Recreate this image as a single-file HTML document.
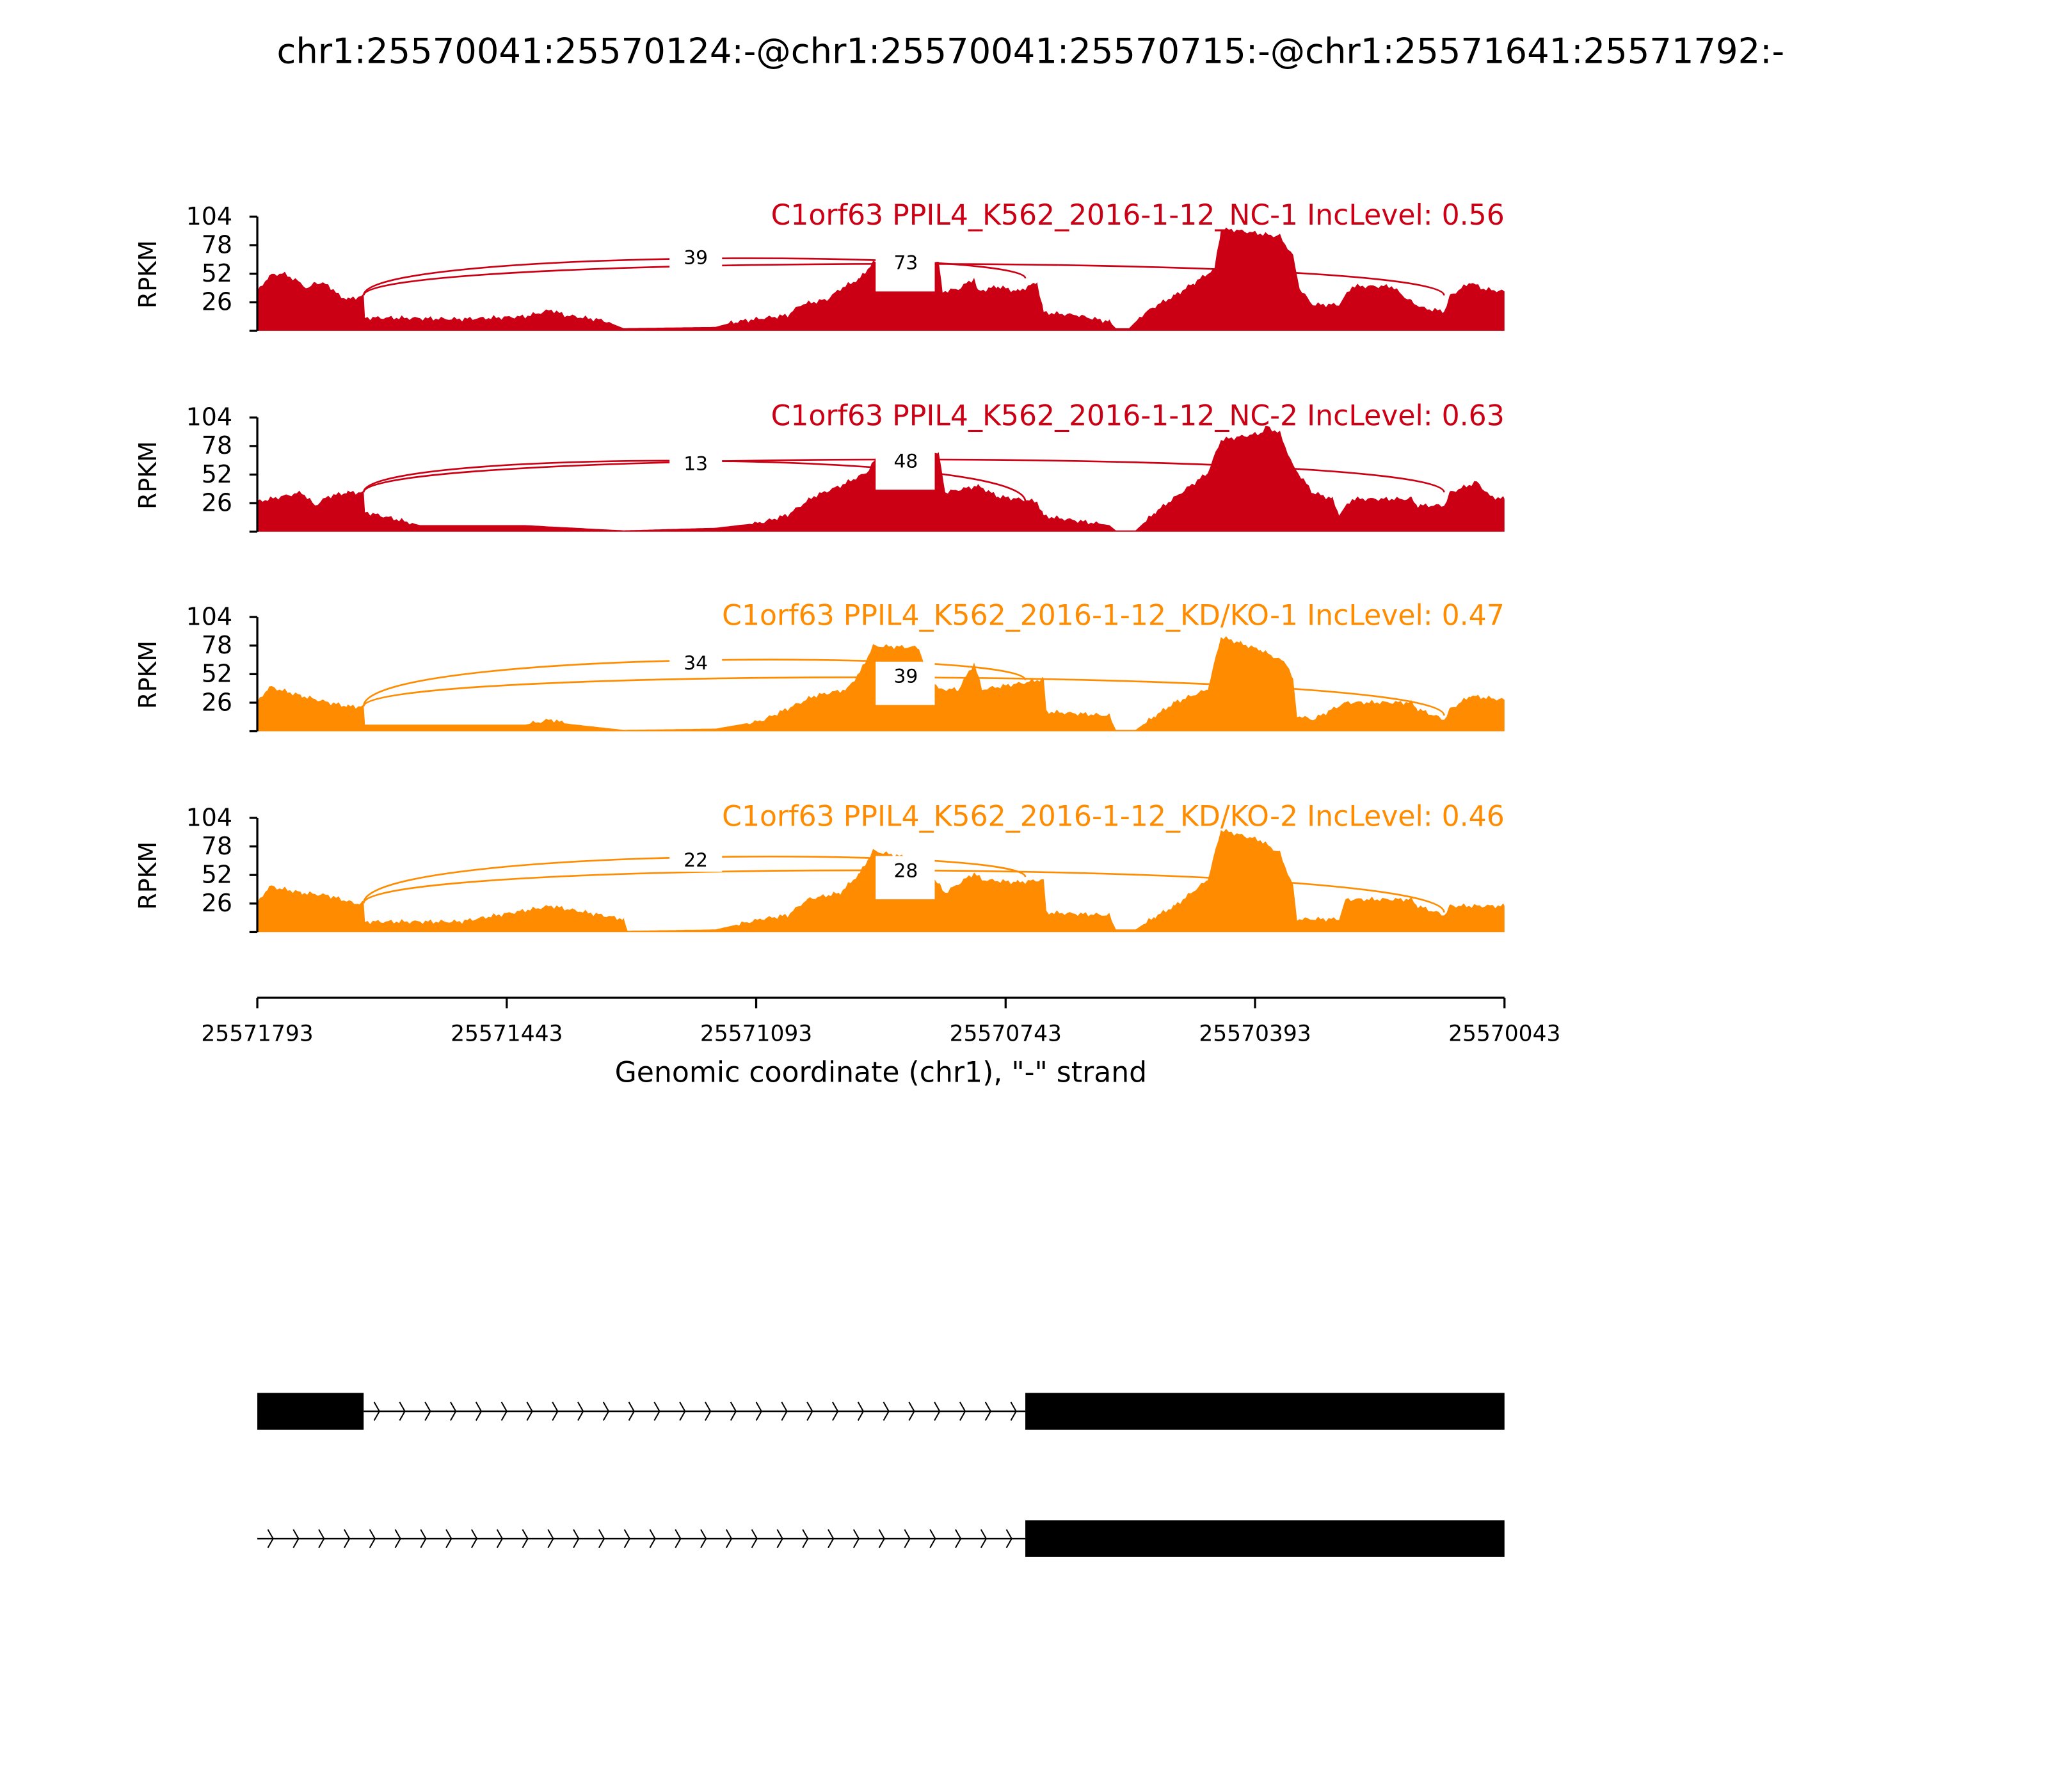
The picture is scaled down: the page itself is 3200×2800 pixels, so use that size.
<!DOCTYPE html>
<html><head><meta charset="utf-8"><style>
html,body{margin:0;padding:0;background:#fff;}
svg{display:block;}
text{font-family:"DejaVu Sans","Liberation Sans",sans-serif;}
</style></head><body>
<svg id="s" width="3200" height="2800" viewBox="0 0 1560 1365" xmlns="http://www.w3.org/2000/svg">
<rect width="1560" height="1365" fill="#fff"/>
<text x="785" y="48" font-size="26.5" text-anchor="middle">chr1:25570041:25570124:-@chr1:25570041:25570715:-@chr1:25571641:25571792:-</text>
<g id="panels"></g>
<g stroke="#000" stroke-width="1.6">
<line x1="196" y1="760" x2="1146" y2="760"/>
<line x1="196" y1="760" x2="196" y2="768"/><line x1="386" y1="760" x2="386" y2="768"/>
<line x1="576" y1="760" x2="576" y2="768"/><line x1="766" y1="760" x2="766" y2="768"/>
<line x1="956" y1="760" x2="956" y2="768"/><line x1="1146" y1="760" x2="1146" y2="768"/>
</g>
<g font-size="16.8" text-anchor="middle">
<text x="196" y="793">25571793</text><text x="386" y="793">25571443</text>
<text x="576" y="793">25571093</text><text x="766" y="793">25570743</text>
<text x="956" y="793">25570393</text><text x="1146" y="793">25570043</text>
</g>
<text x="671" y="824" font-size="21.5" text-anchor="middle">Genomic coordinate (chr1), "-" strand</text>
<rect x="196" y="1061" width="81" height="28" fill="#000"/>
<rect x="781" y="1061" width="365" height="28" fill="#000"/>
<line x1="277" y1="1075" x2="781" y2="1075" stroke="#000" stroke-width="1.2"/>
<rect x="781" y="1158" width="365" height="28" fill="#000"/>
<line x1="196" y1="1172" x2="781" y2="1172" stroke="#000" stroke-width="1.2"/>
<g id="chev" fill="none" stroke="#000" stroke-width="1"></g>
</svg>
<script>
var NS="http://www.w3.org/2000/svg";
function el(t,a,p){var e=document.createElementNS(NS,t);for(var k in a)e.setAttribute(k,a[k]);(p||document.getElementById('panels')).appendChild(e);return e;}
var ch=document.getElementById('chev');
for(var x=287;x<775;x+=19.4){el('path',{d:'M'+(x-2)+' 1068 L'+(x+2)+' 1075 L'+(x-2)+' 1082'},ch);}
for(var x=206;x<775;x+=19.4){el('path',{d:'M'+(x-2)+' 1165 L'+(x+2)+' 1172 L'+(x-2)+' 1179'},ch);}
var P=[
{b:252,c:"#cc0014",lab:"C1orf63 PPIL4_K562_2016-1-12_NC-1 IncLevel: 0.56",
prof:[[196,222],[205,210],[215,208],[225,213],[235,220],[240,215],[250,217],[258,225],[265,228],[277,225],[278,242],[300,242],[350,243],[400,241],[420,236],[430,240],[460,244],[475,250],[545,249],[560,245],[600,240],[610,232],[630,228],[640,220],[655,212],[665,200],[715,200],[718,222],[730,220],[742,212],[745,222],[760,218],[775,222],[790,215],[795,238],[820,240],[845,245],[850,250],[860,250],[870,240],[880,233],[895,225],[910,215],[925,205],[930,175],[940,175],[960,178],[975,180],[985,195],[990,220],[1000,232],[1020,232],[1030,218],[1060,218],[1075,230],[1085,235],[1100,237],[1105,225],[1120,215],[1130,220],[1146,222]],
A:[277,225,781,212,197],B:[277,225,1100,225,201],la:"39",lb:"73",lay:196,lby:200},
{b:405,c:"#cc0014",lab:"C1orf63 PPIL4_K562_2016-1-12_NC-2 IncLevel: 0.63",
prof:[[196,382],[230,375],[240,385],[250,378],[265,375],[277,375],[278,390],[300,395],[320,400],[400,400],[475,404],[545,402],[580,398],[600,392],[610,385],[620,378],[640,370],[660,360],[670,345],[715,345],[720,375],[745,370],[760,378],[790,382],[795,393],[845,400],[850,404],[865,404],[880,390],[900,375],[920,360],[930,335],[960,330],[965,325],[975,330],[985,355],[1000,375],[1015,380],[1020,392],[1030,380],[1075,380],[1080,385],[1100,385],[1105,375],[1125,367],[1135,378],[1146,380]],
A:[277,375,781,382,351],B:[277,375,1100,375,350],la:"13",lb:"48",lay:353,lby:351},
{b:557,c:"#ff8c00",lab:"C1orf63 PPIL4_K562_2016-1-12_KD/KO-1 IncLevel: 0.47",
prof:[[196,535],[205,523],[230,530],[250,535],[265,538],[277,538],[278,552],[400,552],[420,548],[430,551],[475,556],[545,555],[580,549],[610,535],[620,530],[645,525],[655,512],[665,492],[700,493],[705,510],[715,525],[730,525],[742,505],[748,525],[780,520],[795,517],[797,542],[845,545],[850,556],[865,556],[880,545],[895,535],[920,525],[930,485],[945,490],[960,495],[980,505],[985,518],[988,545],[1000,548],[1025,535],[1075,535],[1080,540],[1100,548],[1105,540],[1120,530],[1146,533]],
A:[277,538,781,518,503],B:[277,538,1100,545,516],la:"34",lb:"39",lay:505,lby:515},
{b:710,c:"#ff8c00",lab:"C1orf63 PPIL4_K562_2016-1-12_KD/KO-2 IncLevel: 0.46",
prof:[[196,688],[205,675],[230,680],[250,682],[270,688],[277,688],[278,702],[350,702],[420,690],[430,692],[475,700],[478,709],[545,708],[580,700],[600,697],[615,685],[640,680],[655,665],[665,648],[700,655],[720,680],[742,665],[748,670],[775,672],[795,670],[797,695],[845,697],[850,708],[865,708],[880,698],[895,690],[920,670],[930,632],[960,640],[975,650],[985,675],[988,700],[1020,700],[1025,685],[1075,685],[1080,690],[1100,697],[1105,690],[1146,690]],
A:[277,688,781,668,653],B:[277,688,1100,695,663],la:"22",lb:"28",lay:655,lby:663}
];
function arc(a,c){var x1=a[0],y1=a[1],x2=a[2],y2=a[3],pk=a[4];var avg=(y1+y2)/2;var cy=(pk-0.25*avg)/0.75;
return el('path',{d:'M'+x1+' '+y1+' C'+x1+' '+cy+' '+x2+' '+cy+' '+x2+' '+y2,fill:'none',stroke:c,'stroke-width':1.3});}
P.forEach(function(p){
var b=p.b,t=b-87;
var pts=[[196,b]];var pr=p.prof;
for(var i=0;i<pr.length-1;i++){var x0=pr[i][0],y0=pr[i][1],x1=pr[i+1][0],y1=pr[i+1][1];
 for(var x=x0;x<x1;x+=2){var y=y0+(y1-y0)*(x-x0)/(x1-x0);var n=(Math.sin(x*1.7)+Math.sin(x*0.63))*1.0;var yy=Math.min(b,y+((b-y)>6?n:0));pts.push([x,yy]);}}
pts.push([1146,pr[pr.length-1][1]]);pts.push([1146,b]);
el('polygon',{points:pts.map(function(q){return q[0]+','+q[1].toFixed(1)}).join(' '),fill:p.c});
arc(p.A,p.c);arc(p.B,p.c);
el('rect',{x:510,y:p.lay-11,width:40,height:20,fill:'#fff'});
var tx=el('text',{x:530,y:p.lay+5,'font-size':14.5,'text-anchor':'middle'});tx.textContent=p.la;
el('rect',{x:667,y:p.lby-11,width:45,height:33,fill:'#fff'});
tx=el('text',{x:690,y:p.lby+5,'font-size':14.5,'text-anchor':'middle'});tx.textContent=p.lb;
el('line',{x1:196,y1:t,x2:196,y2:b,stroke:'#000','stroke-width':1.6});
[0,26,52,78,104].forEach(function(v){var y=b-v*87/104;el('line',{x1:190,y1:y,x2:196,y2:y,stroke:'#000','stroke-width':1.6});
 if(v>0){var tt=el('text',{x:177,y:y+6,'font-size':18.5,'text-anchor':'end'});tt.textContent=v;}});
var r=el('text',{x:0,y:0,'font-size':18.5,'text-anchor':'middle',transform:'translate(119,'+(b-43)+') rotate(-90)'});r.textContent='RPKM';
var l=el('text',{x:1146,y:t+6,'font-size':21.5,'text-anchor':'end',fill:p.c});l.textContent=p.lab;
});
</script>
</body></html>
